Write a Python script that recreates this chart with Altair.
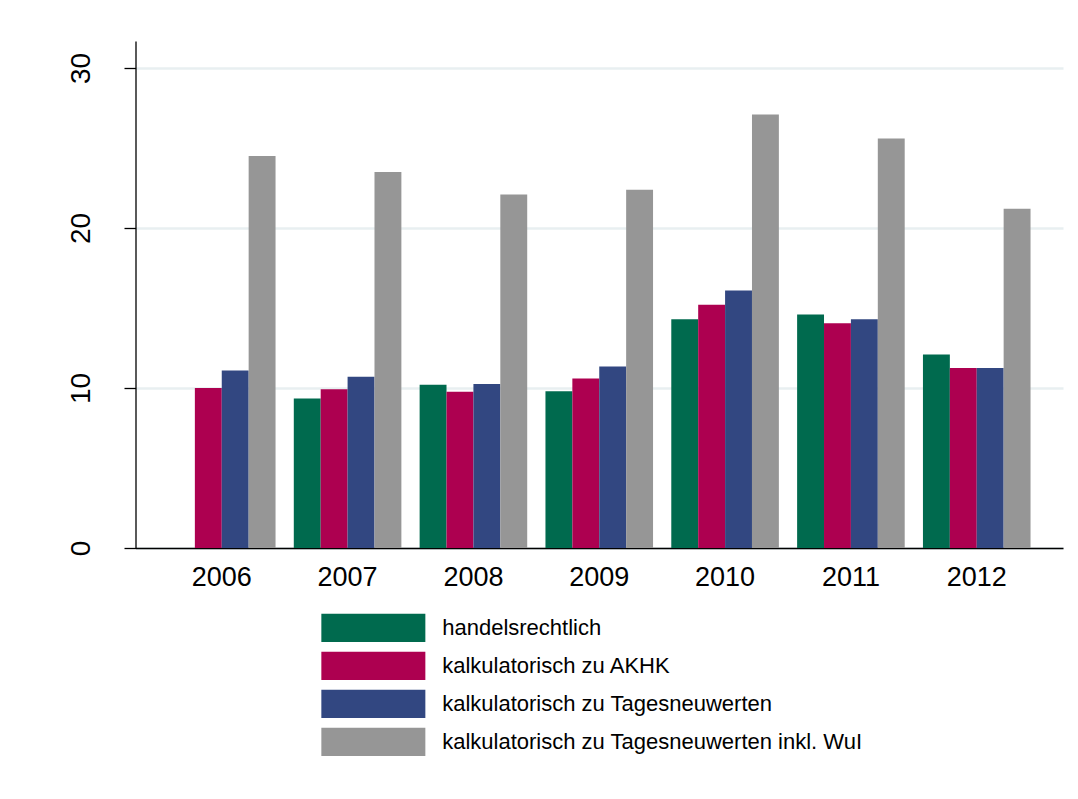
import altair as alt
import pandas as pd

years = ["2006", "2007", "2008", "2009", "2010", "2011", "2012"]
series = [
    "handelsrechtlich",
    "kalkulatorisch zu AKHK",
    "kalkulatorisch zu Tagesneuwerten",
    "kalkulatorisch zu Tagesneuwerten inkl. WuI",
]
handels = [None, 9.35, 10.2, 9.8, 14.3, 14.6, 12.1]
akhk = [10.0, 9.93, 9.76, 10.6, 15.2, 14.05, 11.25]
tages = [11.1, 10.7, 10.25, 11.35, 16.1, 14.3, 11.25]
wui = [24.5, 23.5, 22.1, 22.4, 27.1, 25.6, 21.2]
colors = ["#006a4e", "#ad0050", "#324781", "#969696"]
y_ticks = [0, 10, 20, 30]

rows = []
for s, vals in zip(series, [handels, akhk, tages, wui]):
    for yr, v in zip(years, vals):
        if v is not None:
            rows.append({"year": yr, "series": s, "value": v})
df = pd.DataFrame(rows)

FONT = "Liberation Sans"

chart = alt.Chart(df).mark_bar(strokeWidth=0).encode(
    x=alt.X(
        "year:N",
        sort=years,
        scale=alt.Scale(paddingInner=0.145, paddingOuter=0.258),
        axis=alt.Axis(
            title=None,
            labelAngle=0,
            labelFont=FONT,
            labelFontSize=27,
            labelColor="#000000",
            labelBaseline="alphabetic",
            labelPadding=37,
            ticks=False,
            tickSize=0,
            domain=True,
            domainColor="#000000",
            domainWidth=1.3,
            grid=False,
        ),
    ),
    xOffset=alt.XOffset(
        "series:N",
        sort=series,
        scale=alt.Scale(domain=series, paddingInner=0, paddingOuter=0),
    ),
    y=alt.Y(
        "value:Q",
        scale=alt.Scale(domain=[0, 31.69], nice=False, zero=True),
        axis=alt.Axis(
            title=None,
            values=y_ticks,
            labelAngle=270,
            labelAlign="center",
            labelBaseline="alphabetic",
            labelPadding=35,
            labelFont=FONT,
            labelFontSize=28,
            labelColor="#000000",
            ticks=True,
            tickSize=11.5,
            tickColor="#000000",
            tickWidth=1.3,
            domain=True,
            domainColor="#000000",
            domainWidth=1.3,
            grid=True,
            gridColor="#e8eff1",
            gridWidth=2.5,
        ),
    ),
    color=alt.Color(
        "series:N",
        sort=series,
        scale=alt.Scale(domain=series, range=colors),
        legend=alt.Legend(
            title=None,
            orient="none",
            legendX=223.35,
            legendY=572.3,
            direction="vertical",
            symbolType="M-3.675,-1L3.675,-1L3.675,1L-3.675,1Z",
            symbolSize=801,
            symbolStrokeWidth=0,
            symbolOpacity=1,
            labelFont=FONT,
            labelFontSize=22,
            labelColor="#000000",
            labelOffset=54.35,
            labelLimit=0,
            rowPadding=9,
            padding=0,
        ),
    ),
).properties(
    width=927.5,
    height=507,
    background="#ffffff",
    autosize=alt.AutoSizeParams(type="none"),
    padding={"left": 127.5, "top": 33, "right": 7, "bottom": 243},
).configure_view(stroke=None)

chart.save("out.html", embed_options={"renderer": "svg", "actions": False})
